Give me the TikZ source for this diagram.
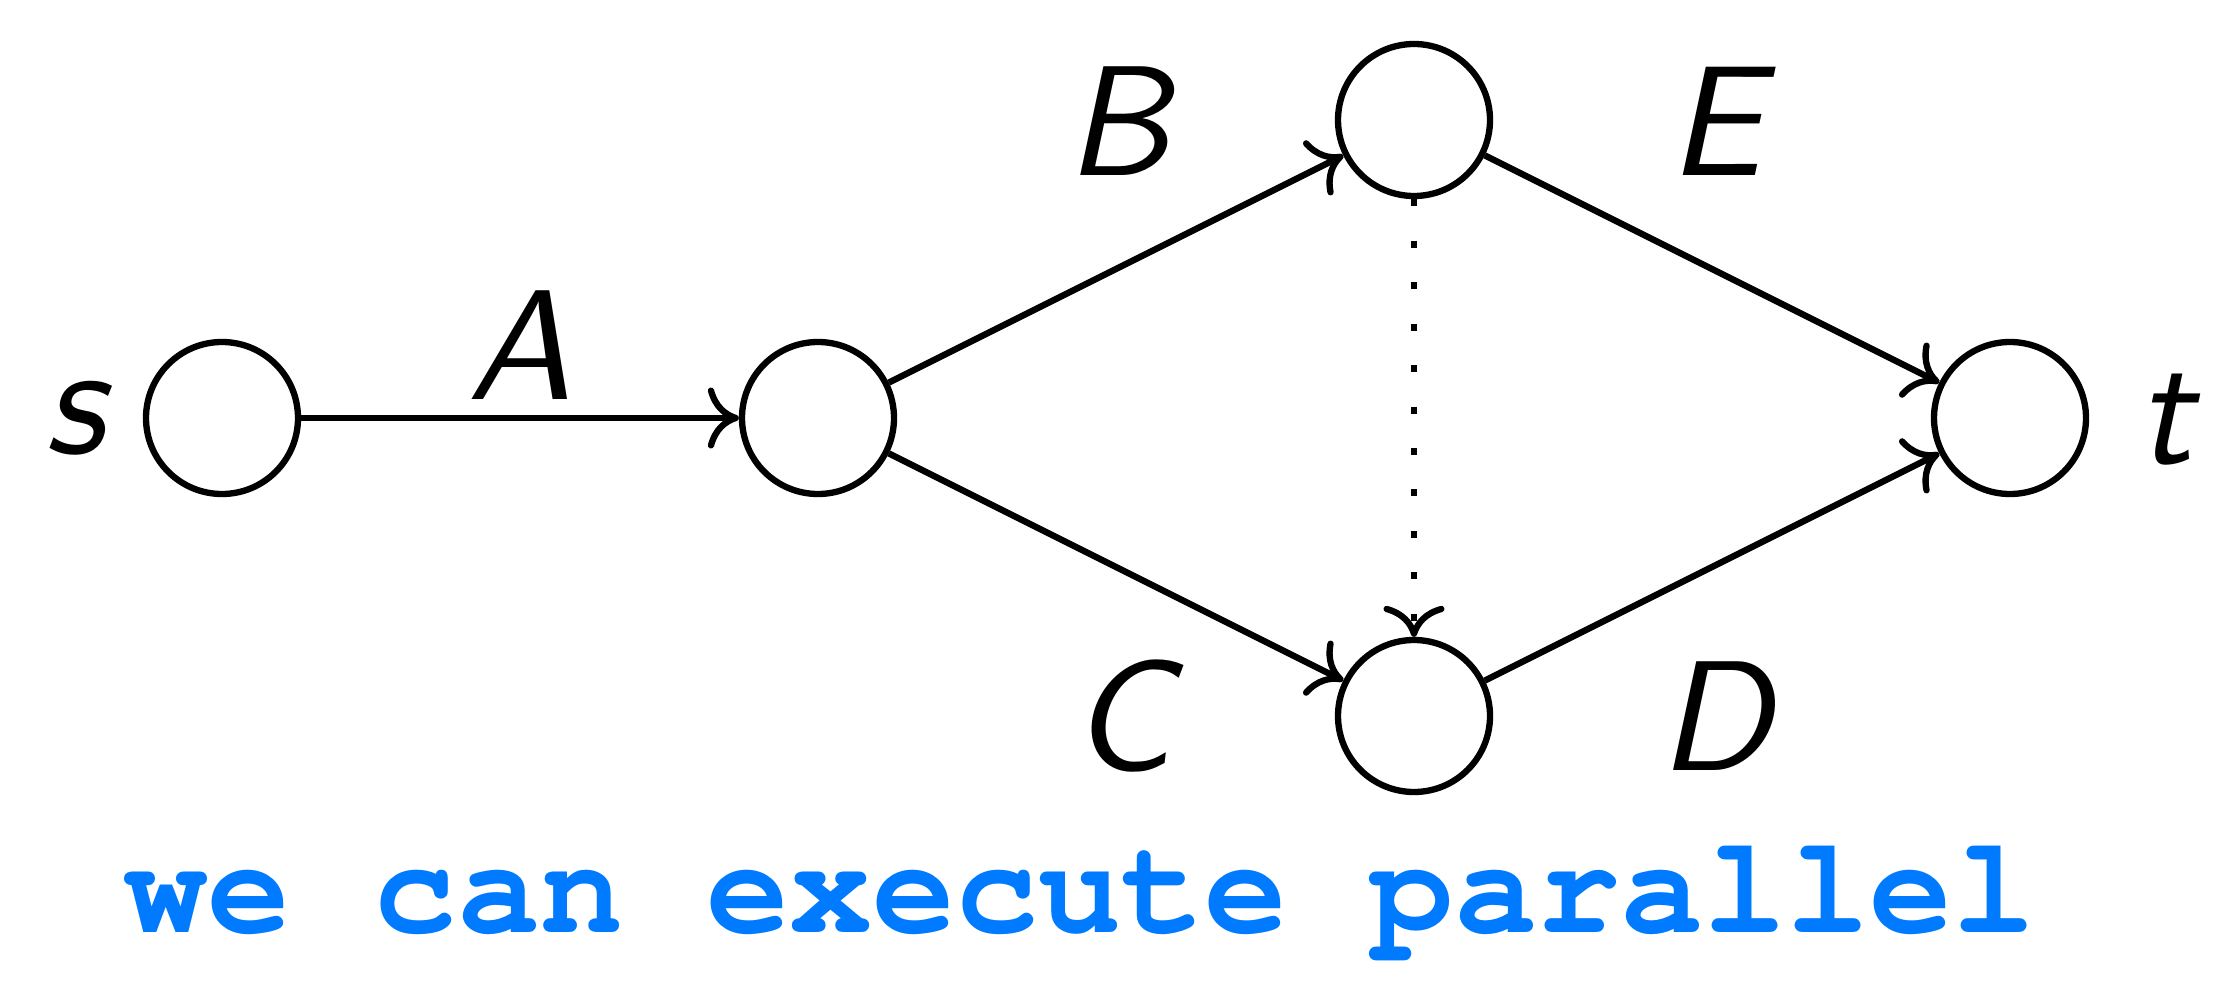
\documentclass[tikz,border=0pt]{standalone}
\usepackage{fontspec}
\usepackage{graphicx}
\usetikzlibrary{arrows.meta}
\definecolor{codeblue}{RGB}{0,122,255}
\newcommand{\codefont}{\fontencoding{T1}\fontfamily{pcr}\fontseries{b}\selectfont}
\newcommand{\tagtext}[1]{\scalebox{4.46}{\fontsize{10}{12}\selectfont\sffamily\itshape #1}}
\tikzstyle{vertex} = [circle, minimum size=1.52cm, inner sep=0pt, draw=black, line width=1.8pt]
\tikzstyle{tag} = [inner sep=0pt]
\tikzstyle{arrow} = [line width=1.8pt, -{Computer Modern Rightarrow[length=0.31cm,width=0.61cm]}]
\tikzstyle{dotarrow} = [arrow, dash pattern=on 2pt off 9.8pt]
\tikzstyle{caption} = [inner sep=0pt, anchor=base west, text=codeblue, font=\codefont\fontsize{39.4}{42}\selectfont]

\begin{document}
\begin{tikzpicture}[node distance=5.96cm]
\useasboundingbox (0,0) rectangle (22.28,-9.99);

\node (s) [vertex] at (2.22,-4.18) {};
\node (mid) [vertex, right of=s] {};
\node (top) [vertex, right of=mid, yshift=2.98cm] {};
\node (bot) [vertex, right of=mid, yshift=-2.98cm] {};
\node (t) [vertex, right of=top, yshift=-2.98cm] {};

\node (slab) [tag, left of=s, node distance=1.47cm] {\tagtext{s}};
\node (tlab) [tag, right of=t, node distance=1.55cm, yshift=-0.02cm] {\tagtext{t}};
\node (alab) [tag] at (5.20,-3.45) {\tagtext{A}};
\node (blab) [tag] at (11.18,-1.215) {\tagtext{B}};
\node (elab) [tag] at (17.15,-1.215) {\tagtext{E}};
\node (clab) [tag] at (11.22,-7.165) {\tagtext{C}};
\node (dlab) [tag] at (17.15,-7.165) {\tagtext{D}};

\draw [arrow] (s) -- (mid);
\draw [arrow] (mid) -- (top);
\draw [arrow] (mid) -- (bot);
\draw [arrow] (top) -- (t);
\draw [arrow] (bot) -- (t);
\draw [dotarrow] (top) -- (bot);

\node (note) [caption] at (1.24,-9.32) {we can execute parallel};

\end{tikzpicture}
\end{document}
